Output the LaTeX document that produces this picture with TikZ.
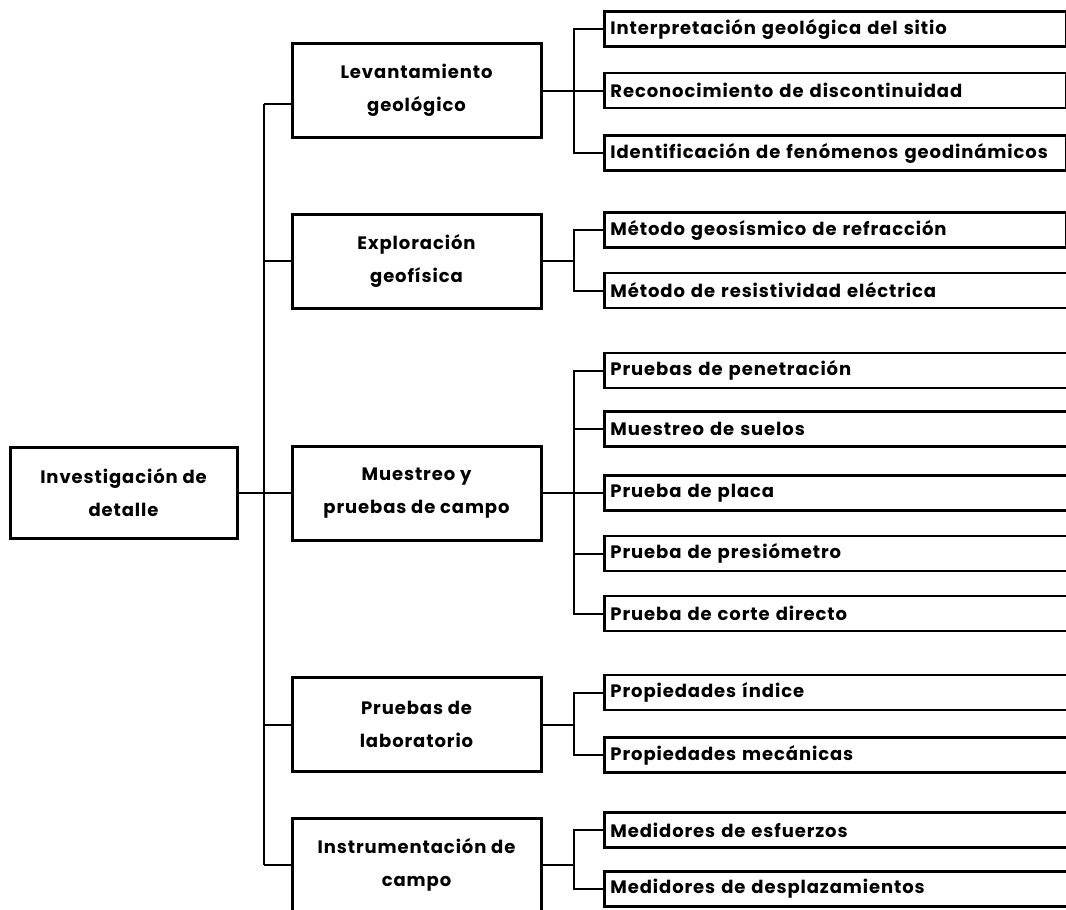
\documentclass[tikz,border=0pt]{standalone}
\usepackage{fontspec}
\setmainfont{Poppins}[LetterSpace=5]
\usepackage{tikz}

\begin{document}
\begin{tikzpicture}[x=1pt,y=1pt,yscale=-1,xscale=1,
  font=\fontsize{18}{33}\selectfont\bfseries,
  mainbox/.style={draw,line width=3pt,minimum width=227pt,minimum height=91pt,align=center,inner sep=0pt},
  groupbox/.style={draw,line width=3pt,minimum width=249pt,minimum height=94pt,align=center,inner sep=0pt},
  leafbox/.style={draw,line width=2.8pt,anchor=west,minimum height=35pt,text width=450pt,align=left,inner xsep=6pt,inner ysep=0pt},
  leafopen/.style={leafbox,text width=470pt},
  link/.style={line width=2pt}]
\useasboundingbox (0,0) rectangle (1066,910);
\clip (0,0) rectangle (1066,910);

% Root
\node [mainbox] (inv) at (123.5,492.5) {Investigación de\\detalle};

% Groups
\node [groupbox] (lev) at (416.5,90.5) {Levantamiento\\geológico};
\node [groupbox] (exp) at (416.5,261) {Exploración\\geofísica};
\node [groupbox] (mue) at (416.5,493) {Muestreo y\\pruebas de campo};
\node [groupbox] (lab) at (416.5,724.5) {Pruebas de\\laboratorio};
\node [groupbox] (ins) at (416.5,865) {Instrumentación de\\campo};

% Leaves
\node [leafbox] (lev1) at (603,29) {Interpretación geológica del sitio};
\node [leafbox] (lev2) at (603,90.5) {Reconocimiento de discontinuidad};
\node [leafbox] (lev3) at (603,153) {Identificación de fenómenos geodinámicos};
\node [leafbox] (exp1) at (603,230) {Método geosísmico de refracción};
\node [leafopen] (exp2) at (603,290.5) {Método de resistividad eléctrica};
\node [leafopen] (mue1) at (603,370.5) {Pruebas de penetración};
\node [leafopen] (mue2) at (603,429) {Muestreo de suelos};
\node [leafopen] (mue3) at (603,493) {Prueba de placa};
\node [leafopen] (mue4) at (603,553.5) {Prueba de presiómetro};
\node [leafopen] (mue5) at (603,613.5) {Prueba de corte directo};
\node [leafopen] (lab1) at (603,692.5) {Propiedades índice};
\node [leafopen] (lab2) at (603,755) {Propiedades mecánicas};
\node [leafopen] (ins1) at (603,830) {Medidores de esfuerzos};
\node [leafopen] (ins2) at (603,889) {Medidores de desplazamientos};

% Trunk
\coordinate (trunk) at (263.5,0);
\coordinate (fork) at (574,0);
\draw [link] ([yshift=13pt]lev.west -| trunk) -- (ins.west -| trunk);
\draw [link] (inv.east) -- (inv.east -| trunk);
\draw [link] ([yshift=13pt]lev.west) -- ([yshift=13pt]lev.west -| trunk);
\foreach \g in {exp,mue,lab,ins}
  \draw [link] (\g.west) -- (\g.west -| trunk);

% Forks
\foreach \g/\first/\last in {lev/lev1/lev3,exp/exp1/exp2,mue/mue1/mue5,lab/lab1/lab2,ins/ins1/ins2}{
  \draw [link] (\g.east) -- (\g.east -| fork);
  \draw [link] (\first.west) -- (\first.west -| fork) -- (\last.west -| fork) -- (\last.west);
}
\foreach \leaf in {lev2,mue2,mue3,mue4}
  \draw [link] (\leaf.west) -- (\leaf.west -| fork);

\end{tikzpicture}
\end{document}
